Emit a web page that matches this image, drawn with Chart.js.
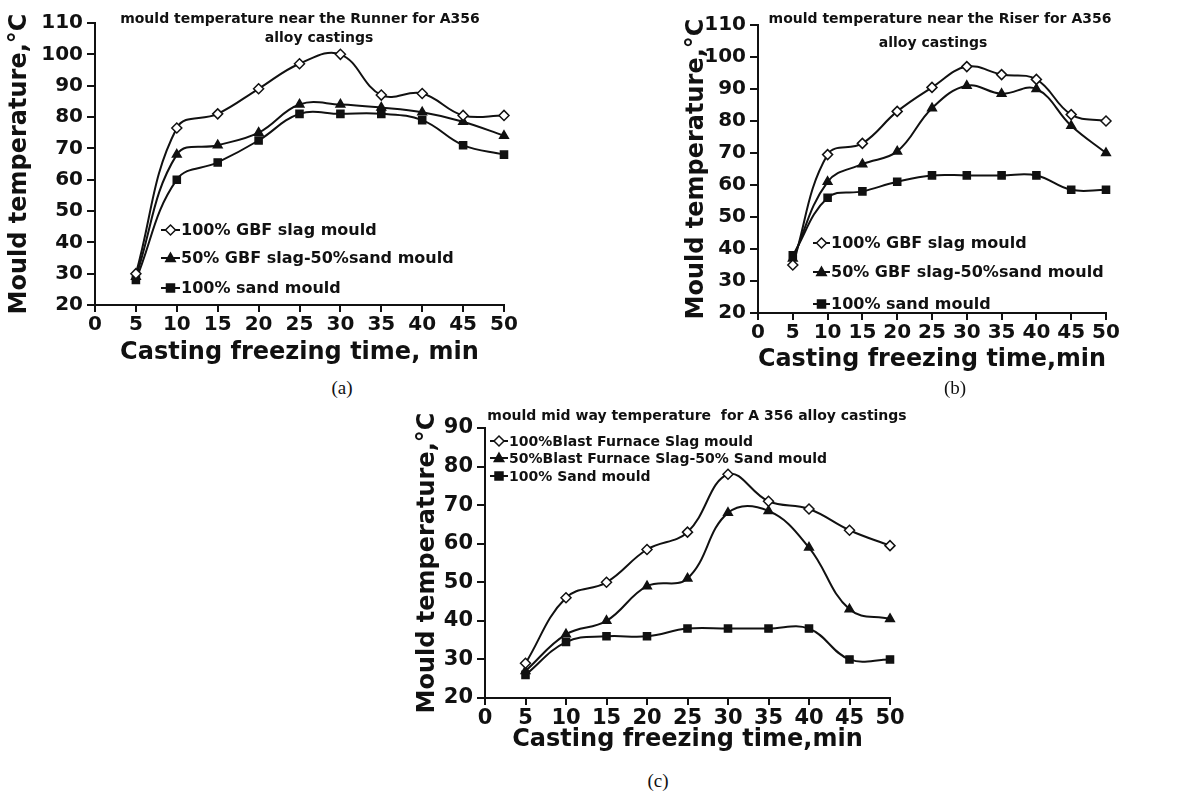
<!DOCTYPE html>
<html><head><meta charset="utf-8">
<script src="https://cdn.jsdelivr.net/npm/chart.js@4.4.1/dist/chart.umd.min.js"></script>
<style>
html,body{margin:0;padding:0;background:#fff;}
body{width:1190px;height:793px;position:relative;overflow:hidden;font-family:"DejaVu Sans",sans-serif;}
.box{position:absolute;}
.t{position:absolute;font-weight:bold;color:#111;white-space:pre;transform:translateX(-50%);line-height:1;}
.cap{position:absolute;font-family:"Liberation Serif","Times New Roman",serif;font-size:19px;color:#111;transform:translateX(-50%);}
</style></head>
<body>
<div class="box" id="ba" style="left:0;top:0;width:520px;height:372px"><canvas id="ca"></canvas></div>
<div class="box" id="bb" style="left:680px;top:0;width:510px;height:380px"><canvas id="cb"></canvas></div>
<div class="box" id="bc" style="left:400px;top:400px;width:520px;height:360px"><canvas id="cc"></canvas></div>

<div class="t" style="left:300px;top:11px;font-size:14px">mould temperature near the Runner for A356</div>
<div class="t" style="left:319px;top:30px;font-size:14px">alloy castings</div>
<div class="t" style="left:940px;top:11px;font-size:14px">mould temperature near the Riser for A356</div>
<div class="t" style="left:933px;top:35px;font-size:14px">alloy castings</div>
<div class="t" style="left:697px;top:408px;font-size:14px">mould mid way temperature  for A 356 alloy castings</div>

<div class="cap" style="left:342px;top:377px">(a)</div>
<div class="cap" style="left:955px;top:377px">(b)</div>
<div class="cap" style="left:658px;top:770px">(c)</div>

<script>
// ---- data ----
const times = [5, 10, 15, 20, 25, 30, 35, 40, 45, 50];
const xTicks = [0, 5, 10, 15, 20, 25, 30, 35, 40, 45, 50];

const runnerSlag = [30, 76.5, 81, 89, 97, 100, 87, 87.5, 80.5, 80.5];
const runnerMix  = [29, 68, 71, 75, 84, 84, 83, 81.5, 78.5, 74];
const runnerSand = [28, 60, 65.5, 72.5, 81, 81, 81, 79, 71, 68];

const riserSlag = [35, 69.5, 73, 83, 90.5, 97, 94.5, 93, 82, 80];
const riserMix  = [37, 61, 66.5, 70.5, 84, 91, 88.5, 90, 78.5, 70];
const riserSand = [38, 56, 58, 61, 63, 63, 63, 63, 58.5, 58.5];

const midSlag = [29, 46, 50, 58.5, 63, 78, 71, 69, 63.5, 59.5];
const midMix  = [27, 36.5, 40, 49, 51, 68, 68.5, 59, 43, 40.5];
const midSand = [26, 34.5, 36, 36, 38, 38, 38, 38, 30, 30];

const labelsAB = ['100% GBF slag mould', '50% GBF slag-50%sand mould', '100% sand mould'];
const labelsC = ['100%Blast Furnace Slag mould', '50%Blast Furnace Slag-50% Sand mould', '100% Sand mould'];

const FONT = '"DejaVu Sans", sans-serif';
const INK = '#111';

function drawMarker(ctx, style, x, y, r, fill) {
  ctx.save();
  ctx.beginPath();
  if (style === 'rectRot') {
    ctx.moveTo(x, y - r); ctx.lineTo(x + r, y); ctx.lineTo(x, y + r); ctx.lineTo(x - r, y); ctx.closePath();
  } else if (style === 'triangle') {
    ctx.moveTo(x, y - r); ctx.lineTo(x + r * 0.95, y + r * 0.7); ctx.lineTo(x - r * 0.95, y + r * 0.7); ctx.closePath();
  } else {
    ctx.rect(x - r * 0.8, y - r * 0.8, r * 1.6, r * 1.6);
  }
  ctx.fillStyle = fill; ctx.fill();
  ctx.lineWidth = 1.5; ctx.strokeStyle = INK; ctx.stroke();
  ctx.restore();
}

const innerLegend = {
  id: 'innerLegend',
  afterDraw(chart, args, opts) {
    if (!opts || !opts.rows) return;
    const ctx = chart.ctx;
    ctx.save();
    ctx.font = 'bold ' + opts.size + 'px ' + FONT;
    ctx.textBaseline = 'middle';
    chart.data.datasets.forEach((ds, i) => {
      const y = opts.rows[i];
      ctx.strokeStyle = INK; ctx.lineWidth = 2;
      ctx.beginPath(); ctx.moveTo(opts.x0, y); ctx.lineTo(opts.x1, y); ctx.stroke();
      drawMarker(ctx, ds.pointStyle, (opts.x0 + opts.x1) / 2, y, 5, ds.pointBackgroundColor);
      ctx.fillStyle = INK;
      ctx.fillText(ds.label, opts.x1 + 1, y + 1);
    });
    ctx.restore();
  }
};

function series(vals, label, style, fill) {
  return {
    label: label,
    data: times.map((t, i) => ({x: t, y: vals[i]})),
    borderColor: INK, borderWidth: 2, tension: 0.4,
    pointStyle: style, pointRadius: 5, pointBackgroundColor: fill,
    pointBorderColor: INK, pointBorderWidth: 1.5, clip: false, fill: false
  };
}

function makeChart(id, data, cfg) {
  new Chart(document.getElementById(id), {
    type: 'line',
    data: {datasets: data},
    plugins: [innerLegend],
    options: {
      responsive: true, maintainAspectRatio: false, animation: false,
      layout: {padding: {left: 0, top: cfg.padTop, right: cfg.padRight, bottom: 0}},
      plugins: {legend: {display: false}, tooltip: {enabled: false}, innerLegend: cfg.legend},
      scales: {
        x: {
          type: 'linear', min: 0, max: 50,
          afterBuildTicks: s => { s.ticks = xTicks.map(v => ({value: v})); },
          afterFit: s => { s.height = cfg.xH; },
          border: {display: true, color: INK, width: 2},
          grid: {display: true, drawOnChartArea: false, drawTicks: true, tickLength: 7, color: INK, lineWidth: 2},
          ticks: {color: INK, font: {family: FONT, size: cfg.tick, weight: 'bold'}, padding: 1, autoSkip: false, maxRotation: 0},
          title: {display: true, text: cfg.xTitle, color: INK, font: {family: FONT, size: 24, weight: 'bold'}, padding: {top: 0, bottom: cfg.xTitlePad}}
        },
        y: {
          min: cfg.yMin, max: cfg.yMax,
          ticks: {stepSize: 10, autoSkip: false, color: INK, font: {family: FONT, size: cfg.tick, weight: 'bold'}, padding: 4},
          afterFit: s => { s.width = cfg.yW; },
          border: {display: true, color: INK, width: 2},
          grid: {display: true, drawOnChartArea: false, drawTicks: true, tickLength: 8, color: INK, lineWidth: 2},
          title: {display: true, text: 'Mould temperature,°C', color: INK, font: {family: FONT, size: 24, weight: 'bold'}, padding: {top: cfg.yTitlePad, bottom: 0}}
        }
      }
    }
  });
}

makeChart('ca', [
  series(runnerSlag, labelsAB[0], 'rectRot', '#fff'),
  series(runnerMix, labelsAB[1], 'triangle', INK),
  series(runnerSand, labelsAB[2], 'rect', INK)
], {padTop: 23, padRight: 16, xH: 67, yW: 95, yMin: 20, yMax: 110, tick: 20,
    xTitle: 'Casting freezing time, min', xTitlePad: 4.6, yTitlePad: 5.6,
    legend: {x0: 161, x1: 180, rows: [230, 258, 288], size: 16}});

makeChart('cb', [
  series(riserSlag, labelsAB[0], 'rectRot', '#fff'),
  series(riserMix, labelsAB[1], 'triangle', INK),
  series(riserSand, labelsAB[2], 'rect', INK)
], {padTop: 25, padRight: 84, xH: 67, yW: 78, yMin: 20, yMax: 110, tick: 20,
    xTitle: 'Casting freezing time,min', xTitlePad: 5.6, yTitlePad: 2.6,
    legend: {x0: 133, x1: 150, rows: [243, 272, 304], size: 16}});

makeChart('cc', [
  series(midSlag, labelsC[0], 'rectRot', '#fff'),
  series(midMix, labelsC[1], 'triangle', INK),
  series(midSand, labelsC[2], 'rect', INK)
], {padTop: 28, padRight: 30, xH: 62, yW: 85, yMin: 20, yMax: 90, tick: 21,
    xTitle: 'Casting freezing time,min', xTitlePad: 5.6, yTitlePad: 13.6,
    legend: {x0: 90, x1: 108, rows: [41, 58, 76], size: 14}});
</script>
</body></html>
